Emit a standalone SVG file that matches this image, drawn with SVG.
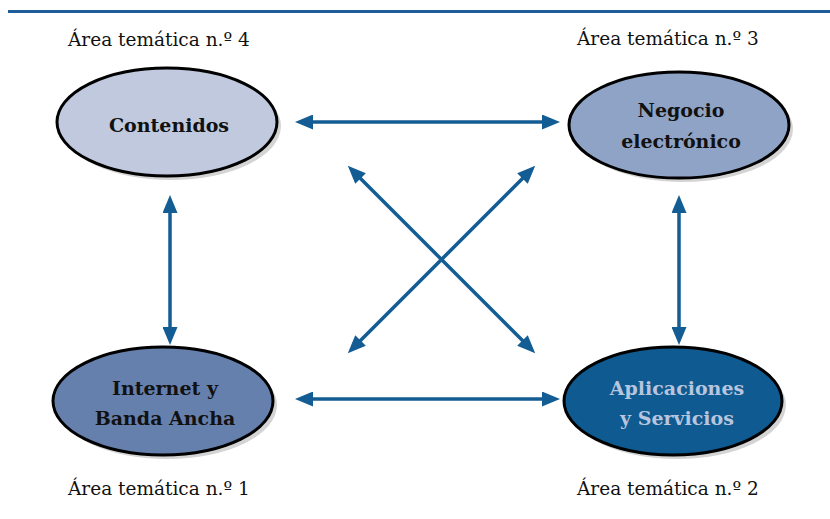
<svg xmlns="http://www.w3.org/2000/svg" width="830" height="519" viewBox="0 0 830 519">
<style>
.lbl{font-family:"DejaVu Serif","Liberation Serif",serif;font-size:18.5px;fill:#111}
.nt{font-family:"DejaVu Serif","Liberation Serif",serif;font-size:19px;font-weight:bold;text-anchor:middle;fill:#111}
.shadow{fill:#d4d4d4}
.node{stroke:#000;stroke-width:3}
.conn{stroke:#135d94;stroke-width:3.5;fill:none;marker-start:url(#ah);marker-end:url(#ah)}
</style>
<defs>
<marker id="ah" markerUnits="userSpaceOnUse" markerWidth="18" markerHeight="15" refX="5" refY="7.5" orient="auto-start-reverse" viewBox="0 0 18 15">
<path d="M0,0 L18,7.5 L0,15 Z" fill="#135d94"/>
</marker>
</defs>
<rect width="830" height="519" fill="#fff"/>
<line x1="8" y1="11.5" x2="830" y2="11.5" stroke="#1f5e9a" stroke-width="3"/>
<text class="lbl" x="68" y="46">Área temática n.º 4</text>
<text class="lbl" x="577" y="45">Área temática n.º 3</text>
<text class="lbl" x="68" y="495">Área temática n.º 1</text>
<text class="lbl" x="577" y="495">Área temática n.º 2</text>
<g id="connectors">
<line class="conn" x1="308" y1="122" x2="547" y2="122"/>
<line class="conn" x1="308" y1="399" x2="547" y2="399"/>
<line class="conn" x1="170" y1="208" x2="170" y2="332"/>
<line class="conn" x1="679" y1="208" x2="679" y2="332"/>
<line class="conn" x1="357" y1="175" x2="526" y2="344"/>
<line class="conn" x1="526" y1="175" x2="357" y2="344"/>
</g>
<g id="node-contenidos">
<ellipse class="shadow" cx="171" cy="126" rx="110" ry="54"/>
<ellipse class="node" cx="167" cy="122" rx="110" ry="54" fill="#c0c9de"/>
<text class="nt" x="169" y="132">Contenidos</text>
</g>
<g id="node-negocio">
<ellipse class="shadow" cx="683" cy="129" rx="110" ry="53"/>
<ellipse class="node" cx="679" cy="125" rx="110" ry="53" fill="#8fa3c6"/>
<text class="nt" x="681" y="117">Negocio</text>
<text class="nt" x="681" y="148">electrónico</text>
</g>
<g id="node-internet">
<ellipse class="shadow" cx="167" cy="405" rx="110" ry="54"/>
<ellipse class="node" cx="163" cy="401" rx="110" ry="54" fill="#6680ae"/>
<text class="nt" x="165" y="395">Internet y</text>
<text class="nt" x="165" y="425">Banda Ancha</text>
</g>
<g id="node-aplicaciones">
<ellipse class="shadow" cx="677" cy="405" rx="109" ry="54"/>
<ellipse class="node" cx="673" cy="401" rx="109" ry="54" fill="#0f5a90"/>
<text class="nt" x="677" y="395" style="fill:#b8c5de">Aplicaciones</text>
<text class="nt" x="677" y="425" style="fill:#b8c5de">y Servicios</text>
</g>
</svg>
